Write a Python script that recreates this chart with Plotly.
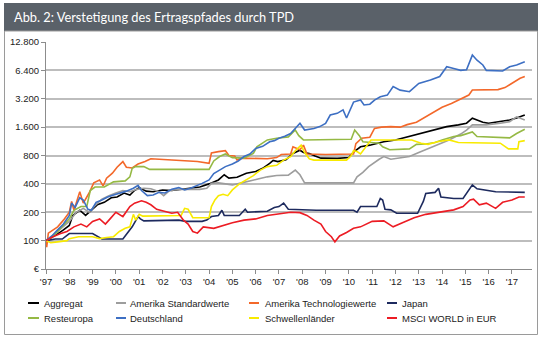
import math
import plotly.graph_objects as go

# ---------------- data (index, 1997 = 100) ----------------
years = list(range(1997, 2018))
year_labels = ["'" + str(y)[2:] for y in years]
y_tickvals = [50, 100, 200, 400, 800, 1600, 3200, 6400, 12800]
y_ticktext = ["€", "100", "200", "400", "800", "1.600", "3.200", "6.400", "12.800"]

aggregat_t = [1997.0, 1997.25, 1997.5, 1997.75, 1998.0, 1998.15, 1998.45, 1998.7, 1998.9, 1999.2, 1999.5, 1999.8,
              2000.05, 2000.35, 2000.6, 2000.8, 2001.0, 2001.3, 2001.6, 2002.0, 2002.4, 2002.8, 2003.2, 2003.6,
              2004.0, 2004.4, 2004.65, 2004.85, 2005.2, 2005.6, 2006.0, 2006.3, 2006.6, 2006.75, 2006.95, 2007.3,
              2007.6, 2007.9, 2008.05, 2008.3, 2008.55, 2008.8, 2009.5, 2010.0, 2010.2, 2010.5, 2010.9, 2011.5,
              2012.0, 2012.5, 2013.0, 2013.6, 2014.2, 2014.7, 2015.05, 2015.3, 2015.5, 2015.75, 2016.0, 2016.5,
              2016.9, 2017.2, 2017.55]
aggregat_v = [100, 108, 118, 130, 145, 185, 210, 185, 205, 240, 255, 285,
              290, 320, 305, 340, 365, 335, 330, 345, 340, 350, 355, 370,
              400, 440, 500, 460, 470, 518, 540, 585, 660, 710, 690, 720,
              840, 910, 860, 840, 790, 750, 745, 760, 870, 990, 1030, 1120,
              1170, 1260, 1340, 1490, 1620, 1690, 1760, 1990, 1910, 1800, 1760, 1830,
              1900, 2000, 2150]

am_standard_t = [1997.0, 1997.25, 1997.5, 1997.75, 1998.0, 1998.3, 1998.6, 1998.85, 1999.1, 1999.4, 1999.7,
                 2000.0, 2000.3, 2000.6, 2000.9, 2001.2, 2001.5, 2001.85, 2002.05, 2002.3, 2002.7, 2003.2,
                 2003.6, 2003.9, 2004.1, 2004.4, 2004.7, 2005.0, 2005.4, 2005.7, 2006.1, 2006.5, 2006.9,
                 2007.4, 2007.7, 2007.9, 2008.1, 2010.2, 2010.35, 2010.6, 2010.85, 2011.3, 2011.5, 2011.8,
                 2012.2, 2012.6, 2013.0, 2013.4, 2013.8, 2014.3, 2014.8, 2015.05, 2015.3, 2015.9, 2016.5,
                 2016.9, 2017.2, 2017.55]
am_standard_v = [100, 110, 125, 140, 160, 200, 220, 200, 235, 275, 300,
                 320, 340, 330, 350, 360, 355, 330, 300, 340, 350, 350,
                 350, 360, 405, 410, 400, 390, 410, 430, 450, 475, 490,
                 495, 560, 500, 410, 410, 475, 530, 610, 730, 780, 730,
                 750, 780, 860, 940, 1030, 1170, 1350, 1490, 1690, 1690, 1760,
                 1830, 2060, 1910]

am_tech_t = [1997.0, 1997.03, 1997.1, 1997.3, 1997.5, 1997.75, 1998.0, 1998.1, 1998.2, 1998.45, 1998.6, 1998.85,
             1999.05, 1999.3, 1999.45, 1999.6, 1999.85, 2000.05, 2000.3, 2000.45, 2000.7, 2000.95, 2001.25,
             2001.5, 2002.5, 2003.5, 2004.0, 2004.1, 2004.4, 2004.7, 2004.85, 2005.1, 2005.2, 2005.4, 2006.5,
             2006.9, 2007.1, 2007.5, 2007.6, 2007.9, 2008.05, 2008.2, 2009.0, 2010.2, 2010.3, 2010.55, 2010.9,
             2011.1, 2011.4, 2011.8, 2012.2, 2012.5, 2012.9, 2013.2, 2013.6, 2014.0, 2014.4, 2014.9, 2015.15,
             2015.3, 2016.0, 2016.4, 2016.7, 2017.0, 2017.35, 2017.55]
am_tech_v = [100, 85, 120, 130, 140, 165, 200, 260, 210, 330, 250, 320,
             410, 440, 380, 460, 520, 600, 690, 600, 590, 650, 690,
             740, 720, 690, 660, 850, 880, 900, 800, 790, 715, 750, 740,
             760, 820, 830, 990, 920, 1030, 830, 820, 830, 1070, 1220, 1250,
             1550, 1600, 1620, 1600, 1700, 1800, 2000, 2300, 2600, 2850, 3230, 3500,
             3960, 3960, 4000, 4200, 4650, 5270, 5500]

japan_t = [1997.0, 1997.4, 1997.7, 1997.9, 1998.0, 1999.0, 1999.25, 1999.4, 2000.3, 2000.5, 2000.7, 2000.95,
           2001.05, 2001.2, 2002.7, 2003.0, 2003.7, 2003.9, 2004.1, 2004.4, 2004.55, 2004.65, 2005.3, 2005.55,
           2005.65, 2006.5, 2006.8, 2007.0, 2007.2, 2007.4, 2008.0, 2008.6, 2010.2, 2010.35, 2010.5, 2011.2,
           2011.35, 2011.45, 2011.55, 2011.8, 2012.05, 2012.95, 2013.2, 2013.3, 2013.7, 2013.85, 2013.95,
           2014.5, 2014.9, 2015.1, 2015.3, 2015.5, 2015.75, 2016.3, 2017.55]
japan_v = [100, 104, 104, 115, 119, 119, 110, 104, 104, 120, 140, 180,
           170, 162, 165, 160, 160, 165, 180, 185, 210, 185, 185, 215,
           200, 205, 225, 230, 250, 215, 212, 210, 210, 200, 230, 230,
           280, 270, 215, 212, 195, 195, 262, 316, 325, 360, 290,
           280, 280, 330, 390, 355, 345, 330, 325]

resteuropa_t = [1997.0, 1997.25, 1997.5, 1997.75, 1998.0, 1998.2, 1998.5, 1998.75, 1998.9, 1999.1, 1999.5,
                1999.9, 2000.4, 2000.6, 2000.7, 2000.85, 2001.2, 2001.45, 2004.0, 2004.2, 2004.45, 2004.7,
                2005.0, 2005.5, 2005.9, 2006.05, 2006.5, 2006.9, 2007.4, 2007.7, 2007.85, 2008.05, 2009.5,
                2010.1, 2010.25, 2010.45, 2010.6, 2011.3, 2011.45, 2011.75, 2012.6, 2012.9, 2013.3, 2013.7,
                2014.0, 2014.5, 2014.8, 2015.3, 2015.5, 2016.3, 2016.9, 2017.2, 2017.55]
resteuropa_v = [100, 108, 125, 145, 170, 210, 230, 230, 340, 370, 370,
                420, 430, 475, 585, 610, 610, 570, 570, 700, 780, 830,
                760, 750, 840, 990, 1170, 1220, 1260, 1490, 1300, 1170, 1170,
                1190, 1490, 1300, 1120, 1080, 990, 920, 940, 1050, 1060, 1100,
                1170, 1270, 1300, 1420, 1270, 1260, 1230, 1370, 1520]

deutschland_t = [1997.0, 1997.25, 1997.5, 1997.75, 1998.0, 1998.1, 1998.25, 1998.45, 1998.6, 1998.8, 1998.95,
                 1999.15, 1999.4, 1999.65, 1999.9, 2000.2, 2000.45, 2000.75, 2000.95, 2001.1, 2001.35, 2001.6,
                 2001.85, 2002.1, 2002.4, 2002.7, 2002.95, 2003.2, 2003.45, 2003.7, 2004.0, 2004.2, 2004.45,
                 2004.7, 2005.0, 2005.25, 2005.5, 2005.75, 2006.0, 2006.3, 2006.6, 2006.8, 2007.0, 2007.25,
                 2007.5, 2007.75, 2007.9, 2008.1, 2008.3, 2008.5, 2008.75, 2009.0, 2009.2, 2009.5, 2009.75,
                 2009.9, 2010.2, 2010.5, 2010.65, 2010.9, 2011.1, 2011.35, 2011.65, 2011.9, 2012.2, 2012.6,
                 2013.0, 2013.5, 2013.9, 2014.2, 2014.5, 2014.8, 2015.05, 2015.3, 2015.5, 2015.75, 2015.9,
                 2016.35, 2016.6, 2016.9, 2017.2, 2017.55]
deutschland_v = [100, 112, 130, 150, 185, 250, 225, 285, 270, 215, 210,
                 255, 270, 290, 305, 320, 335, 360, 385, 340, 300, 305,
                 325, 320, 350, 365, 345, 360, 380, 405, 440, 515, 560,
                 610, 650, 700, 780, 830, 950, 1000, 1120, 1150, 1220, 1280,
                 1370, 1620, 1760, 1490, 1520, 1550, 1620, 1750, 2150, 2240, 2440,
                 2000, 2950, 3100, 2750, 2800, 3100, 3360, 3500, 4300, 3950, 3800,
                 4650, 5050, 5500, 7000, 6700, 6400, 6500, 9300, 8200, 7300, 6400,
                 6400, 6300, 7000, 7300, 7900]

schwellen_t = [1997.0, 1997.2, 1997.5, 1997.9, 1998.0, 1998.4, 1999.0, 1999.3, 1999.6, 1999.9, 2000.15,
               2000.4, 2000.6, 2000.75, 2000.85, 2001.0, 2001.15, 2002.8, 2002.95, 2003.1, 2003.3, 2004.0,
               2004.1, 2004.25, 2004.4, 2004.6, 2004.8, 2005.0, 2005.3, 2005.6, 2005.9, 2006.2, 2006.5,
               2006.9, 2007.2, 2007.5, 2007.7, 2007.95, 2008.1, 2008.3, 2008.5, 2009.9, 2010.1, 2010.2,
               2010.35, 2010.5, 2010.75, 2010.95, 2011.5, 2012.7, 2013.1, 2013.4, 2013.8, 2014.3, 2014.7,
               2015.5, 2016.5, 2016.85, 2017.25, 2017.3, 2017.55]
schwellen_v = [100, 95, 97, 100, 105, 110, 110, 105, 108, 110, 125,
               135, 140, 190, 165, 190, 182, 185, 220, 215, 175, 175,
               230, 270, 300, 310, 300, 345, 400, 440, 490, 560, 610,
               630, 715, 780, 900, 1030, 860, 740, 715, 715, 800, 900,
               880, 830, 990, 1170, 1170, 1170, 1080, 1050, 1120, 1170, 1100,
               1090, 1080, 940, 940, 1120, 1150]

msci_t = [1997.0, 1997.3, 1997.6, 1997.9, 1998.2, 1998.5, 1998.75, 1999.0, 1999.3, 1999.55, 1999.75,
          2000.0, 2000.3, 2000.6, 2000.8, 2001.1, 2001.3, 2001.5, 2001.75, 2002.05, 2002.4, 2002.65,
          2002.9, 2003.1, 2003.3, 2003.5, 2003.75, 2004.2, 2004.6, 2005.0, 2005.5, 2006.0, 2006.5,
          2007.0, 2007.5, 2007.9, 2008.2, 2008.5, 2008.8, 2009.0, 2009.25, 2009.4, 2009.6, 2009.9,
          2010.2, 2010.5, 2011.0, 2011.5, 2011.9, 2012.3, 2012.8, 2013.3, 2013.9, 2014.5, 2014.9,
          2015.2, 2015.35, 2015.6, 2015.9, 2016.3, 2016.6, 2017.0, 2017.3, 2017.55]
msci_v = [100, 110, 118, 125, 140, 150, 140, 160, 170, 150, 170,
          200, 180, 230, 250, 265, 255, 240, 215, 205, 195, 200,
          165, 150, 125, 120, 140, 135, 145, 155, 165, 170, 185,
          192, 200, 198, 185, 165, 150, 125, 110, 97, 112, 122,
          135, 140, 160, 162, 140, 155, 175, 190, 200, 212, 230,
          270, 275, 240, 250, 220, 255, 270, 290, 290]

series = [
    ("Aggregat", aggregat_t, aggregat_v, "#000000"),
    ("Amerika Standardwerte", am_standard_t, am_standard_v, "#9d9d9d"),
    ("Amerika Technologiewerte", am_tech_t, am_tech_v, "#f3682a"),
    ("Japan", japan_t, japan_v, "#1d2a5e"),
    ("Resteuropa", resteuropa_t, resteuropa_v, "#95b944"),
    ("Deutschland", deutschland_t, deutschland_v, "#3d6fc3"),
    ("Schwellenländer", schwellen_t, schwellen_v, "#f8ea00"),
    ("MSCI WORLD in EUR", msci_t, msci_v, "#ec1c24"),
]

# ---------------- layout geometry ----------------
W, H = 542, 338
L, R, T, B = 46, 10, 42, 69
PW, PH = W - L - R, H - T - B


def px(x):
    return (x - L) / PW


def py(y):
    return (H - B - y) / PH


fig = go.Figure()
for name, t, v, c in series:
    fig.add_trace(go.Scatter(x=t, y=v, mode="lines", name=name,
                             line=dict(color=c, width=1.6), showlegend=False))

shapes = [
    # title bar
    dict(type="rect", xref="paper", yref="paper", x0=px(4), x1=px(538), y0=py(31), y1=py(3),
         fillcolor="#5a6169", line=dict(width=0), layer="below"),
    # frame
    dict(type="rect", xref="paper", yref="paper", x0=px(4.5), x1=px(537.5), y0=py(334.5), y1=py(31),
         fillcolor="rgba(0,0,0,0)", line=dict(color="#9a9a9a", width=1), layer="below"),
]
annotations = [
    dict(text="Abb. 2: Verstetigung des Ertragspfades durch TPD", xref="paper", yref="paper",
         x=px(12), y=py(17), xanchor="left", yanchor="middle", showarrow=False,
         font=dict(family="Lato", size=12.8, color="#ffffff")),
]

# manual legend (4 columns x 2 rows)
col_line = [(28, 39), (116, 126), (249, 259), (387, 397)]
col_text = [42, 128, 263, 400]
row_y = [303, 318]
for i, (name, t, v, c) in enumerate(series):
    r, k = divmod(i, 4)
    shapes.append(dict(type="line", xref="paper", yref="paper",
                       x0=px(col_line[k][0]), x1=px(col_line[k][1]), y0=py(row_y[r]), y1=py(row_y[r]),
                       line=dict(color=c, width=2)))
    annotations.append(dict(text=name, xref="paper", yref="paper", x=px(col_text[k]), y=py(row_y[r]),
                            xanchor="left", yanchor="middle", showarrow=False,
                            font=dict(family="Liberation Sans", size=9.5, color="#222222")))

fig.update_layout(
    width=W, height=H, autosize=False,
    margin=dict(l=L, r=R, t=T, b=B, pad=0),
    paper_bgcolor="white", plot_bgcolor="white",
    font=dict(family="Liberation Sans", size=9.5, color="#222222"),
    shapes=shapes, annotations=annotations,
    showlegend=False,
    xaxis=dict(range=[1997, 2017.86], tickvals=years, ticktext=year_labels,
               showgrid=False, zeroline=False, showline=True, linecolor="#8c8c8c", linewidth=1,
               ticks="outside", ticklen=4, tickcolor="#8c8c8c", fixedrange=True),
    yaxis=dict(type="log", range=[math.log10(50), math.log10(12800)],
               tickvals=y_tickvals, ticktext=y_ticktext,
               showgrid=True, gridcolor="#bdbdbd", gridwidth=1.5, zeroline=False,
               showline=True, linecolor="#8c8c8c", linewidth=1,
               ticks="outside", ticklen=4, tickcolor="#8c8c8c", fixedrange=True),
)

fig.write_html("out.html")
